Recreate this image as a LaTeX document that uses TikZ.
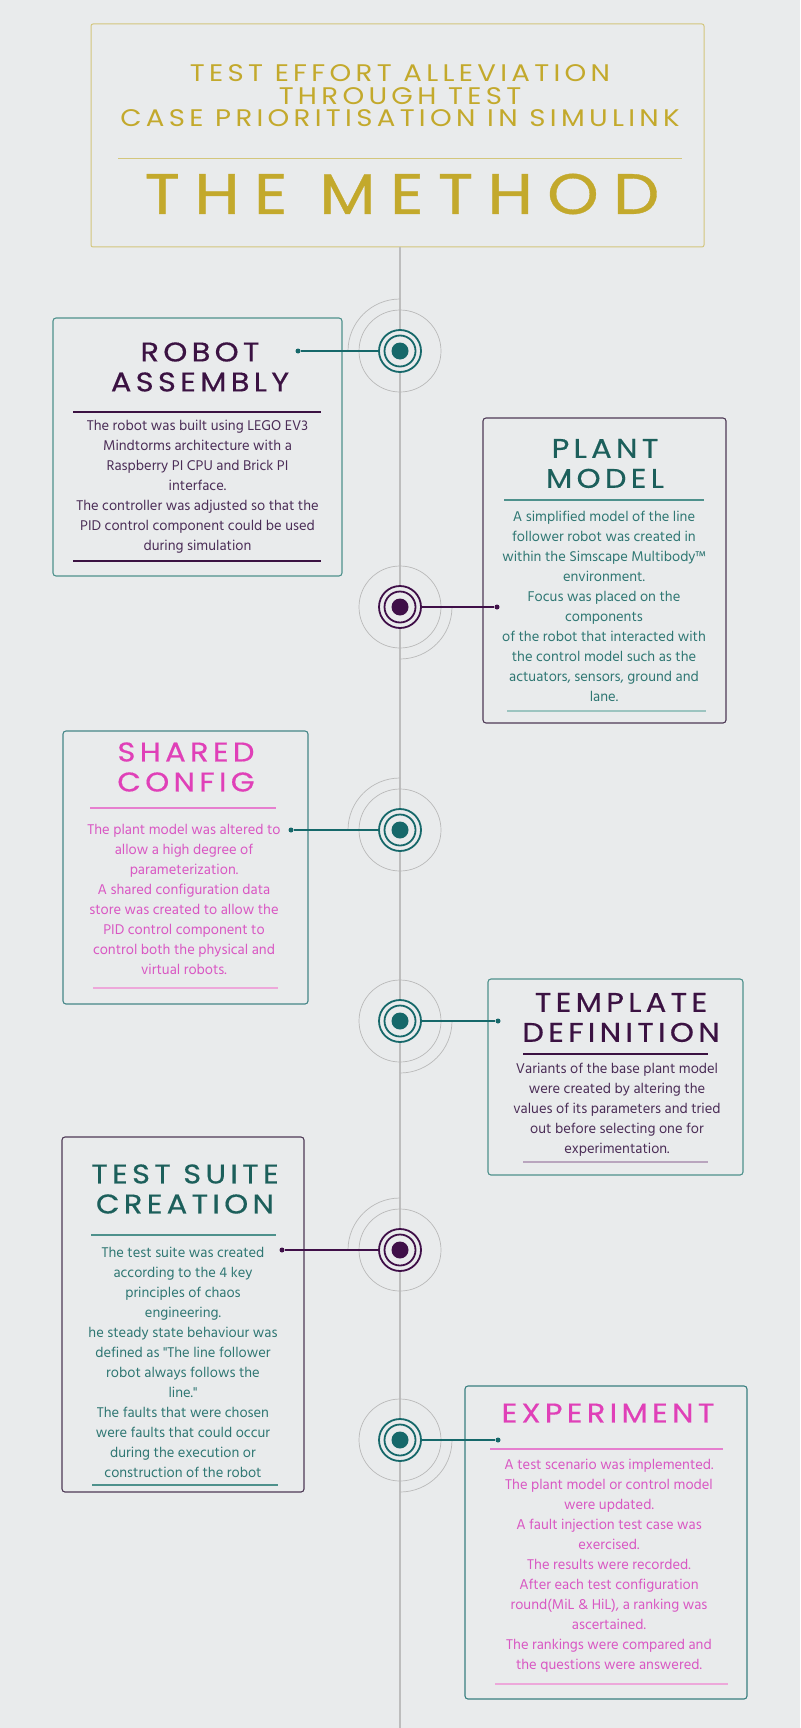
\documentclass[tikz,border=0pt]{standalone}
\usepackage{fontspec}
\newfontfamily\headfont{Poppins}[LetterSpace=16, FakeStretch=1.13, FakeBold=0.5]
\newfontfamily\subtitlefont{Poppins}[LetterSpace=18, FakeStretch=1.15]
\newfontfamily\bigtitlefont{Poppins}[LetterSpace=25, FakeStretch=1.15, FakeBold=0.6]
\newfontfamily\bodyfont{Hind Madurai}

\definecolor{bg}{HTML}{E9EBEC}
\definecolor{gold}{HTML}{C3A92C}
\definecolor{goldline}{HTML}{D3C67C}
\definecolor{tealhead}{HTML}{1C5F5B}
\definecolor{tealhub}{HTML}{16686A}
\definecolor{tealtext}{HTML}{2F7773}
\definecolor{tealedge}{HTML}{4E918C}
\definecolor{teallight}{HTML}{9CC4C0}
\definecolor{purplehead}{HTML}{3B1242}
\definecolor{purplehub}{HTML}{3F0F48}
\definecolor{purpletext}{HTML}{4B2D57}
\definecolor{purpleedge}{HTML}{4E3A56}
\definecolor{purplelight}{HTML}{B9A5BE}
\definecolor{magenta}{HTML}{E040B8}
\definecolor{pinktext}{HTML}{D957C3}
\definecolor{pinkline}{HTML}{E67FCF}
\definecolor{pinklight}{HTML}{EDA8DA}
\definecolor{spine}{HTML}{BDBDBD}
\definecolor{faint}{HTML}{B9B9B9}

\tikzset{
  card/.style={draw=#1, line width=1.1pt, rounded corners=3pt, inner sep=0pt},
  headtext/.style={font=\headfont\fontsize{27}{30}\selectfont, align=center, inner sep=0pt, text=#1},
  bodytext/.style={font=\bodyfont\fontsize{14.5}{20}\selectfont, align=center, inner sep=0pt, text=#1},
  hub/.style={circle, draw=#1, fill=bg, line width=1.8pt, minimum size=42pt, inner sep=0pt},
  ring/.style={draw=#1, line width=1.8pt},
  core/.style={fill=#1},
  halo/.style={draw=faint, line width=0.7pt},
  tip/.style={circle, fill=#1, minimum size=5pt, inner sep=0pt},
  link/.style={draw=#1, line width=1.5pt},
  rule/.style={draw=#1, line width=1.1pt}
}

\begin{document}
\begin{tikzpicture}[x=1pt, y=-1pt]
  % canvas
  \fill[bg] (0,0) rectangle (800,1728);
  \useasboundingbox (0,0) rectangle (800,1728);

  % title block
  \node[draw=goldline, line width=1pt, rounded corners=2pt, minimum width=613pt, minimum height=223pt] (titlebox) at (397.5,135.5) {};
  \node[font=\subtitlefont\fontsize{24}{22.5}\selectfont, text=gold, align=center, inner sep=0pt] (subtitle) at (400,96)
    {TEST EFFORT ALLEVIATION\\THROUGH TEST\\CASE PRIORITISATION IN SIMULINK};
  \draw[draw=goldline, line width=1pt] (118,159) -- (682,159);
  \node[font=\bigtitlefont\fontsize{57}{60}\selectfont, text=gold, inner sep=0pt] (maintitle) at (402,194) {THE METHOD};

  % timeline spine
  \coordinate (spinetop) at (400,247);
  \coordinate (spinebottom) at (400,1728);
  \draw[spine, line width=1.5pt] (spinetop) -- (spinebottom);

  % ---------- 1: robot assembly (left, teal) ----------
  \node[card=tealedge, minimum width=289pt, minimum height=258pt] (box1) at (197.5,447) {};
  \node[headtext=purplehead] (head1) at (200,367) {ROBOT\\ASSEMBLY};
  \draw[rule=purplehead] (73,412) -- (321,412);
  \node[bodytext=purpletext] (text1) at (197.5,487)
    {The robot was built using LEGO EV3\\Mindtorms architecture with a\\Raspberry PI CPU and Brick PI\\interface.\\The controller was adjusted so that the\\PID control component could be used\\during simulation};
  \draw[rule=purplehead] (73,561) -- (321,561);
  \draw[halo] (400,351) circle[radius=41pt];
  \draw[halo] (400,299) arc[start angle=90, end angle=180, radius=52pt];
  \node[hub=tealhub] (hub1) at (400,351) {};
  \draw[ring=tealhub] (hub1) circle[radius=15.5pt];
  \fill[core=tealhub] (hub1) circle[radius=8.5pt];
  \node[tip=tealhub] (tip1) at (298,351) {};
  \draw[link=tealhub] (tip1) -- (hub1);

  % ---------- 2: plant model (right, purple) ----------
  \node[card=purpleedge, minimum width=243pt, minimum height=305pt] (box2) at (604.5,570.5) {};
  \node[headtext=tealhead] (head2) at (605,463.5) {PLANT\\MODEL};
  \draw[rule=tealedge] (504,500) -- (704,500);
  \node[bodytext=tealtext] (text2) at (604,606)
    {A simplified model of the line\\follower robot was created in\\within the Simscape Multibody™\\environment.\\Focus was placed on the\\components\\of the robot that interacted with\\the control model such as the\\actuators, sensors, ground and\\lane.};
  \draw[rule=teallight] (507,711) -- (706,711);
  \draw[halo] (400,607) circle[radius=41pt];
  \draw[halo] (452,607) arc[start angle=0, end angle=-90, radius=52pt];
  \node[hub=purplehub] (hub2) at (400,607) {};
  \draw[ring=purplehub] (hub2) circle[radius=15.5pt];
  \fill[core=purplehub] (hub2) circle[radius=8.5pt];
  \node[tip=purplehub] (tip2) at (497,607) {};
  \draw[link=purplehub] (hub2) -- (tip2);

  % ---------- 3: shared config (left, teal) ----------
  \node[card=tealhub!80, minimum width=245pt, minimum height=273pt] (box3) at (185.5,867.5) {};
  \node[headtext=magenta] (head3) at (186,767) {SHARED\\CONFIG};
  \draw[rule=pinkline] (90,808) -- (276,808);
  \node[bodytext=pinktext] (text3) at (184,899)
    {The plant model was altered to\\allow a high degree of\\parameterization.\\A shared configuration data\\store was created to allow the\\PID control component to\\control both the physical and\\virtual robots.};
  \draw[rule=pinklight] (93,988) -- (278,988);
  \draw[halo] (400,830) circle[radius=41pt];
  \draw[halo] (400,778) arc[start angle=90, end angle=180, radius=52pt];
  \node[hub=tealhub] (hub3) at (400,830) {};
  \draw[ring=tealhub] (hub3) circle[radius=15.5pt];
  \fill[core=tealhub] (hub3) circle[radius=8.5pt];
  \node[tip=tealhub] (tip3) at (291,830) {};
  \draw[link=tealhub] (tip3) -- (hub3);

  % ---------- 4: template definition (right, teal) ----------
  \node[card=tealedge, minimum width=255pt, minimum height=196pt] (box4) at (615.5,1077) {};
  \node[headtext=purplehead] (head4) at (621,1017.5) {TEMPLATE\\DEFINITION};
  \draw[rule=purplehead] (523,1054) -- (708,1054);
  \node[bodytext=purpletext] (text4) at (617,1110)
    {Variants of the base plant model\\were created by altering the\\values of its parameters and tried\\out before selecting one for\\experimentation.};
  \draw[rule=purplelight] (523,1162) -- (708,1162);
  \draw[halo] (400,1021) circle[radius=41pt];
  \draw[halo] (452,1021) arc[start angle=0, end angle=-90, radius=52pt];
  \node[hub=tealhub] (hub4) at (400,1021) {};
  \draw[ring=tealhub] (hub4) circle[radius=15.5pt];
  \fill[core=tealhub] (hub4) circle[radius=8.5pt];
  \node[tip=tealhub] (tip4) at (498,1021) {};
  \draw[link=tealhub] (hub4) -- (tip4);

  % ---------- 5: test suite creation (left, purple) ----------
  \node[card=purpleedge, minimum width=242pt, minimum height=355pt] (box5) at (183,1314.5) {};
  \node[headtext=tealhead] (head5) at (185,1189) {TEST SUITE\\CREATION};
  \draw[rule=tealedge] (91,1235) -- (276,1235);
  \node[bodytext=tealtext] (text5) at (183,1362)
    {The test suite was created\\according to the 4 key\\principles of chaos\\engineering.\\he steady state behaviour was\\defined as "The line follower\\robot always follows the\\line."\\The faults that were chosen\\were faults that could occur\\during the execution or\\construction of the robot};
  \draw[rule=tealedge] (92,1485) -- (278,1485);
  \draw[halo] (400,1250) circle[radius=41pt];
  \draw[halo] (400,1198) arc[start angle=90, end angle=180, radius=52pt];
  \node[hub=purplehub] (hub5) at (400,1250) {};
  \draw[ring=purplehub] (hub5) circle[radius=15.5pt];
  \fill[core=purplehub] (hub5) circle[radius=8.5pt];
  \node[tip=purplehub] (tip5) at (282,1250) {};
  \draw[link=purplehub] (tip5) -- (hub5);

  % ---------- 6: experiment (right, teal) ----------
  \node[card=tealhub!85, minimum width=282pt, minimum height=313pt] (box6) at (606,1542.5) {};
  \node[headtext=magenta] (head6) at (608,1413) {EXPERIMENT};
  \draw[rule=pinkline] (490,1449) -- (723,1449);
  \node[bodytext=pinktext] (text6) at (609,1566)
    {A test scenario was implemented.\\The plant model or control model\\were updated.\\A fault injection test case was\\exercised.\\The results were recorded.\\After each test configuration\\round(MiL \& HiL), a ranking was\\ascertained.\\The rankings were compared and\\the questions were answered.};
  \draw[rule=pinklight] (495,1684) -- (728,1684);
  \draw[halo] (400,1440) circle[radius=41pt];
  \draw[halo] (452,1440) arc[start angle=0, end angle=-90, radius=52pt];
  \node[hub=tealhub] (hub6) at (400,1440) {};
  \draw[ring=tealhub] (hub6) circle[radius=15.5pt];
  \fill[core=tealhub] (hub6) circle[radius=8.5pt];
  \node[tip=tealhub] (tip6) at (498,1440) {};
  \draw[link=tealhub] (hub6) -- (tip6);
\end{tikzpicture}
\end{document}
